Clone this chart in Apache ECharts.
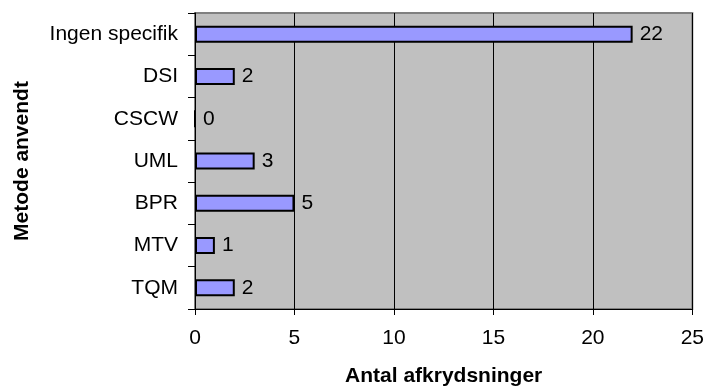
<!DOCTYPE html>
<html>
<head>
<meta charset="utf-8">
<script src="https://cdn.jsdelivr.net/npm/echarts@6/dist/echarts.min.js"></script>
<style>
  html, body { margin: 0; padding: 0; background: #fff; }
  #chart { width: 707px; height: 392px; }
</style>
</head>
<body>
<div id="chart"></div>
<script>
// Methods, listed bottom to top on the category axis
const categories = ['TQM', 'MTV', 'BPR', 'UML', 'CSCW', 'DSI', 'Ingen specifik'];
// Number of check marks for each method
const counts = [2, 1, 5, 3, 0, 2, 22];
const xTicks = [0, 5, 10, 15, 20, 25];

const font = 'Liberation Sans, Arial, sans-serif';
const fs = 21;
const chart = echarts.init(document.getElementById('chart'), null, { renderer: 'canvas' });

chart.setOption({
  animation: false,
  backgroundColor: '#ffffff',
  grid: {
    left: 195, right: 13, top: 13, bottom: 79,
    show: true,
    backgroundColor: '#c0c0c0',
    borderColor: '#808080',
    borderWidth: 2
  },
  xAxis: {
    type: 'value',
    min: xTicks[0],
    max: xTicks[xTicks.length - 1],
    interval: 5,
    name: 'Antal afkrydsninger',
    nameLocation: 'middle',
    nameGap: 57,
    nameTextStyle: { fontFamily: font, fontSize: fs, fontWeight: 'bold', color: '#000' },
    axisLine: { show: true, lineStyle: { color: '#000', width: 1 } },
    axisTick: { show: true, length: 6, lineStyle: { color: '#000' } },
    axisLabel: { fontFamily: font, fontSize: fs, color: '#000', margin: 19 },
    splitLine: { show: true, lineStyle: { color: '#000', width: 1 } }
  },
  yAxis: {
    type: 'category',
    data: categories,
    name: 'Metode anvendt',
    nameLocation: 'middle',
    nameGap: 162,
    nameRotate: 90,
    nameTextStyle: { fontFamily: font, fontSize: fs, fontWeight: 'bold', color: '#000' },
    axisLine: { show: true, lineStyle: { color: '#000', width: 1 } },
    axisTick: { show: true, length: 7, lineStyle: { color: '#000' } },
    axisLabel: { fontFamily: font, fontSize: fs, color: '#000', margin: 17 }
  },
  series: [{
    type: 'bar',
    data: counts,
    barWidth: 17,
    itemStyle: { color: '#9999ff', borderColor: '#000', borderWidth: 2 },
    label: {
      show: true,
      position: 'right',
      distance: 7,
      fontFamily: font,
      fontSize: fs,
      color: '#000'
    }
  }]
});
</script>
</body>
</html>
